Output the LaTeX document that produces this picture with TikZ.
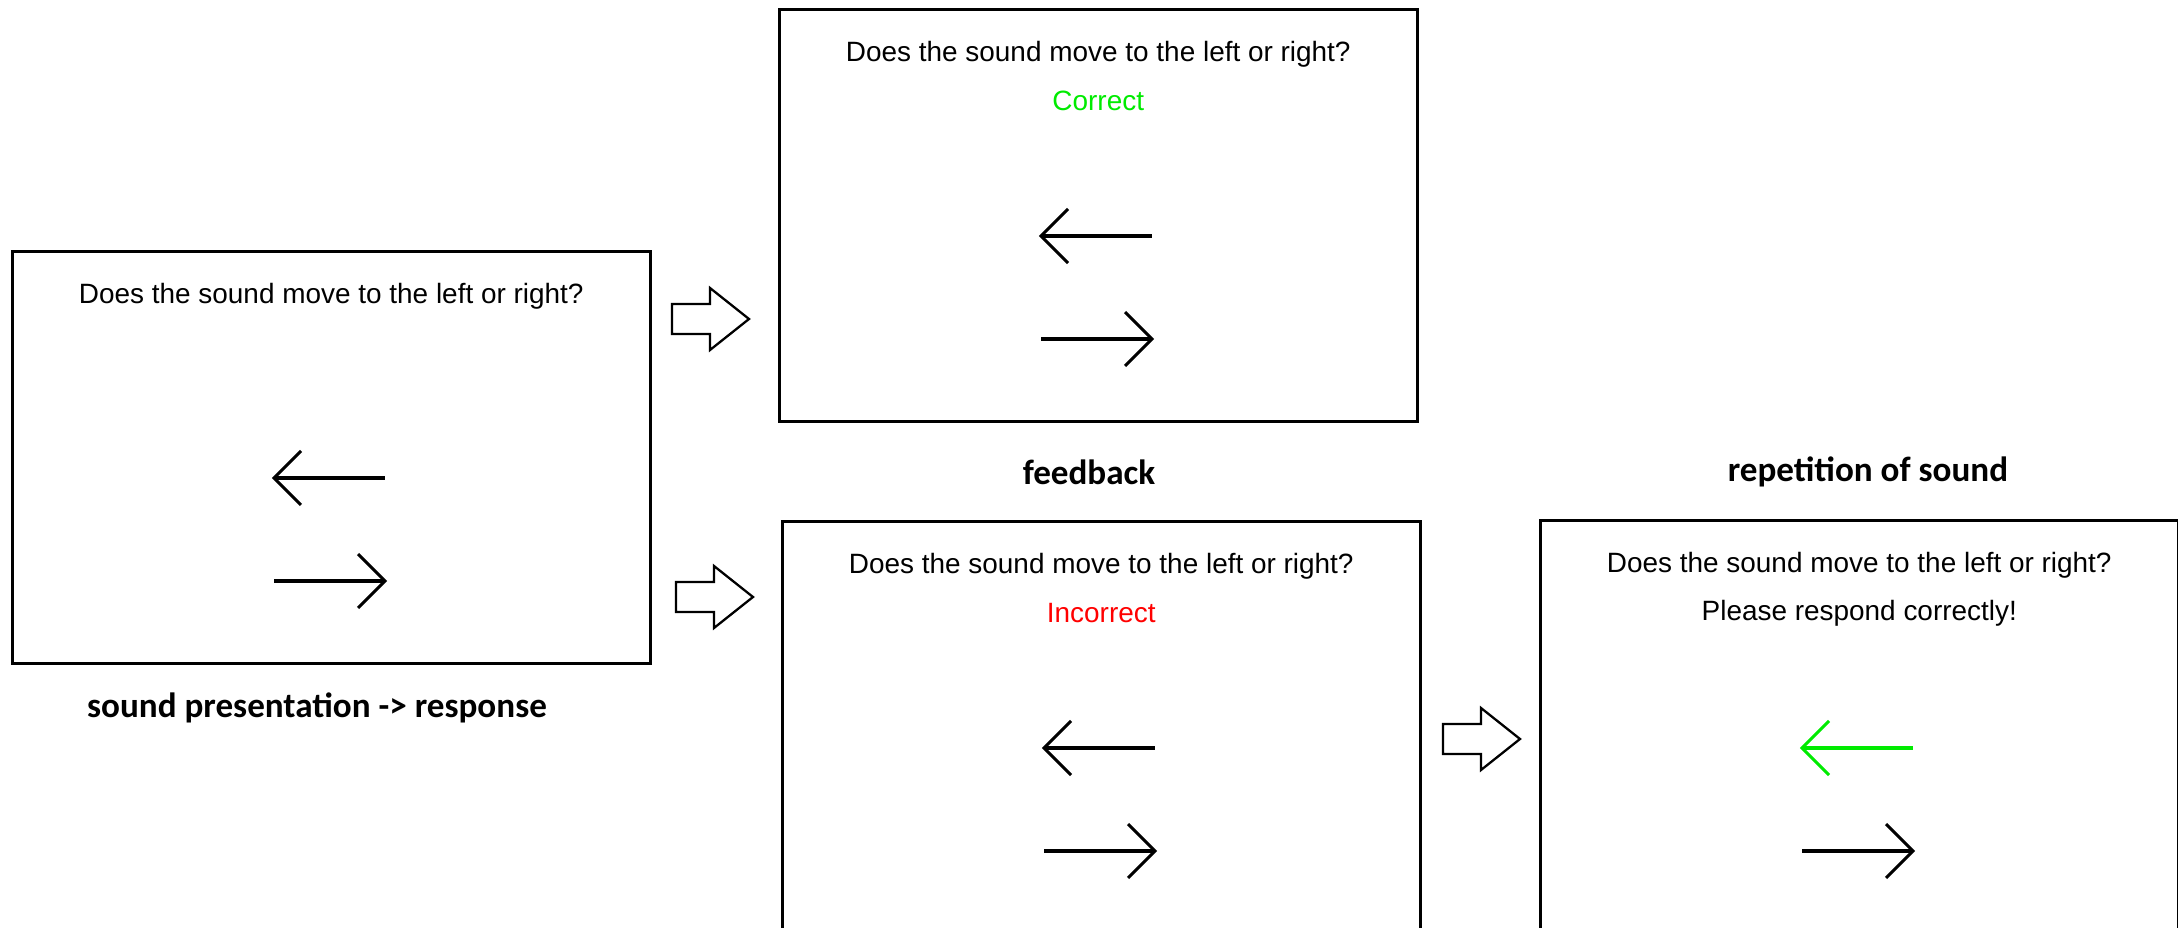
\documentclass[tikz,border=0pt]{standalone}
\usepackage{fontspec}
\setmainfont{Liberation Sans}
\newfontfamily\captionfont{Carlito}
\usetikzlibrary{calc}
\definecolor{okgreen}{RGB}{0,235,0}
\definecolor{badred}{RGB}{255,0,0}

\begin{document}
\begin{tikzpicture}[x=0.02cm,y=-0.02cm,
  screen/.style={draw, line width=1.5pt, minimum width=12.76cm, minimum height=8.24cm,
    anchor=north west, inner sep=0},
  prompt/.style={font=\fontsize{15.9}{18}\selectfont, inner sep=0},
  caption/.style={font=\captionfont\bfseries\fontsize{20}{24}\selectfont, inner sep=0},
  shaft/.style={line width=2.8pt},
  barb/.style={line width=1.7pt, line join=miter},
  leftkey/.pic={
    \draw[shaft] (0,0) -- (111,0);
    \draw[barb] (27,-27) -- (0,0) -- (27,27);
  },
  rightkey/.pic={
    \draw[shaft] (0,0) -- (111,0);
    \draw[barb] (84,-27) -- (111,0) -- (84,27);
  },
  blockarrow/.pic={
    \draw[line width=1.3pt, line join=miter]
      (0,-15) -- (38,-15) -- (38,-31) -- (77,0) -- (38,31) -- (38,15) -- (0,15) -- cycle;
  }]
\useasboundingbox (0,0) rectangle (2178,928);

% the four screens
\node[screen] (b1) at (11,250) {};
\node[screen] (b2) at (778,8) {};
\node[screen] (b3) at (781,520) {};
\node[screen] (b4) at (1539,519) {};

% questions and feedback lines
\foreach \b in {b1,b2,b3,b4}
  \node[prompt] (q\b) at ($(\b.north)+(0,46)$) {Does the sound move to the left or right?};
\node[prompt, text=okgreen] (fb2) at ($(b2.north)+(0,93)$) {Correct};
\node[prompt, text=badred] (fb3) at ($(b3.north)+(0,93)$) {Incorrect};
\node[prompt] (fb4) at ($(b4.north)+(0,94)$) {Please respond correctly!};

% response keys
\foreach \b in {b1,b2,b3} {
  \pic at ($(\b.north west)+(263,228)$) {leftkey};
  \pic at ($(\b.north west)+(263,331)$) {rightkey};
}
\pic[color=okgreen] at ($(b4.north west)+(263,229)$) {leftkey};
\pic at ($(b4.north west)+(263,332)$) {rightkey};

% transitions
\coordinate (t1) at (672,319);
\coordinate (t2) at (676,597);
\coordinate (t3) at (1443,739);
\pic at (t1) {blockarrow};
\pic at (t2) {blockarrow};
\pic at (t3) {blockarrow};

% stage captions
\node[caption] (c1) at (317,708) {sound presentation -> response};
\node[caption] (c2) at (1089,472) {feedback};
\node[caption] (c3) at (1868,472) {repetition of sound};
\end{tikzpicture}
\end{document}
